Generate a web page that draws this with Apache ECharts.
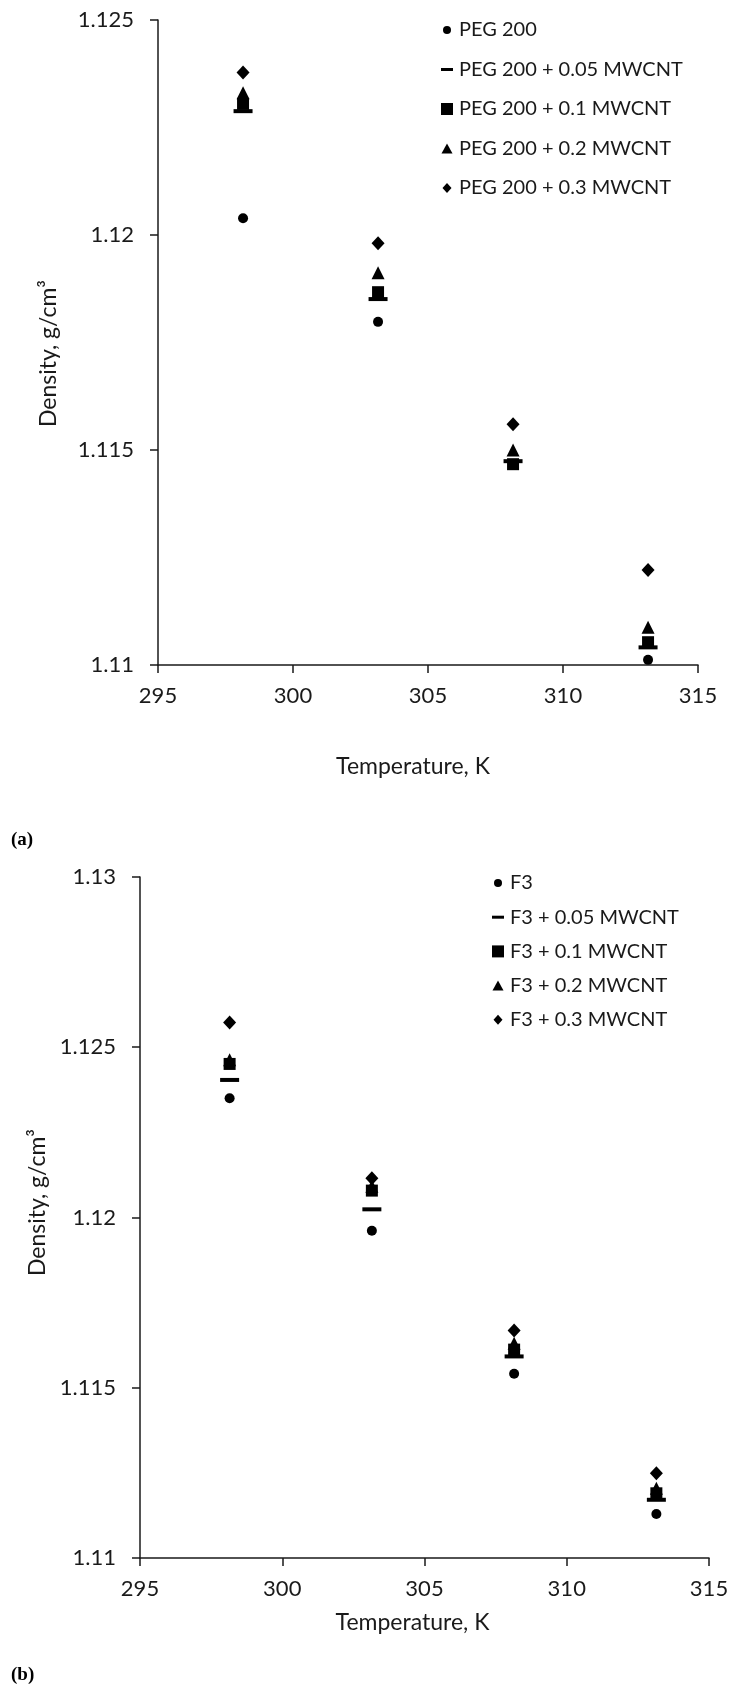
<!DOCTYPE html>
<html>
<head>
<meta charset="utf-8">
<title>Density vs temperature</title>
<script src="https://cdn.jsdelivr.net/npm/echarts@6/dist/echarts.min.js"></script>
<style>
  html, body { margin: 0; padding: 0; background: #fff; }
  #chart { width: 745px; height: 1695px; }
</style>
</head>
<body>
<div id="chart"></div>
<script>
// temperatures, K
var temps = [298.15, 303.15, 308.15, 313.15];

// (a) PEG 200 based fluids, g/cm3
var namesA = ['PEG 200', 'PEG 200 + 0.05 MWCNT', 'PEG 200 + 0.1 MWCNT', 'PEG 200 + 0.2 MWCNT', 'PEG 200 + 0.3 MWCNT'];
var peg     = [1.12039, 1.11798, 1.11465, 1.11012];
var peg005  = [1.12288, 1.11851, 1.11474, 1.11041];
var peg01   = [1.12305, 1.11867, 1.11467, 1.11053];
var peg02   = [1.12331, 1.11912, 1.11500, 1.11088];
var peg03   = [1.12378, 1.11981, 1.11560, 1.11221];

// (b) F3 based fluids, g/cm3
var namesB = ['F3', 'F3 + 0.05 MWCNT', 'F3 + 0.1 MWCNT', 'F3 + 0.2 MWCNT', 'F3 + 0.3 MWCNT'];
var f3     = [1.12350, 1.11961, 1.11541, 1.11129];
var f3005  = [1.12404, 1.12024, 1.11592, 1.11171];
var f301   = [1.12451, 1.12079, 1.11612, 1.11190];
var f302   = [1.12463, 1.12092, 1.11631, 1.11205];
var f303   = [1.12573, 1.12115, 1.11668, 1.11249];

// tick labels
var xTicks  = [295, 300, 305, 310, 315];
var yTicksA = [1.11, 1.115, 1.12, 1.125];
var yTicksB = [1.11, 1.115, 1.12, 1.125, 1.13];

var ink = '#1a1a1a';
var font = 'Lato, Liberation Sans, sans-serif';

// marker shapes: circle, dash, square, triangle, diamond
var symbols = ['circle', 'rect', 'rect', 'triangle', 'diamond'];
var sizes = [10, [19, 4], [12, 12], [13, 13], [13, 14]];
// legend icons in a 14x14 box (corner moves keep the box)
var icons = [
  'path://M0,0M14,14M3,7a4,4 0 1,0 8,0a4,4 0 1,0 -8,0z',
  'path://M0,0M14,14M1,5.5h12v3h-12z',
  'path://M0,0M14,14M1,1h12v12h-12z',
  'path://M0,0M14,14M7,2L12.5,12H1.5z',
  'path://M0,0M14,14M7,2L11.5,7L7,12L2.5,7z'
];

function pairs(ys) {
  return temps.map(function (t, i) { return [t, ys[i]]; });
}

function makeSeries(names, sets, idx) {
  return sets.map(function (ys, k) {
    return {
      name: names[k],
      type: 'scatter',
      xAxisIndex: idx,
      yAxisIndex: idx,
      symbol: symbols[k],
      symbolSize: sizes[k],
      itemStyle: { color: '#000', opacity: 1 },
      data: pairs(ys)
    };
  });
}

function xAxisOf(idx, gap, shift) {
  return {
    gridIndex: idx,
    type: 'value',
    min: xTicks[0],
    max: xTicks[xTicks.length - 1],
    interval: 5,
    name: 'Temperature, K',
    nameLocation: 'middle',
    nameGap: gap,
    nameTextStyle: { color: ink, fontSize: 23, fontFamily: font, padding: [0, shift, 0, 0] },
    axisLine: { lineStyle: { color: ink, width: 1.5 } },
    axisTick: { length: 8, lineStyle: { color: ink, width: 1.5 } },
    axisLabel: {
      color: ink, fontSize: 22, fontFamily: font, margin: 20,
      formatter: function (v) { return xTicks.indexOf(v) >= 0 ? String(v) : ''; }
    },
    splitLine: { show: false }
  };
}

function yAxisOf(idx, ticks, gap, pad) {
  return {
    gridIndex: idx,
    type: 'value',
    min: ticks[0],
    max: ticks[ticks.length - 1],
    interval: 0.005,
    name: 'Density, g/cm\u00b3',
    nameLocation: 'middle',
    nameGap: gap,
    nameTextStyle: { color: ink, fontSize: 23, fontFamily: font, padding: pad },
    axisLine: { show: true, lineStyle: { color: ink, width: 1.5 } },
    axisTick: { show: true, length: 8, lineStyle: { color: ink, width: 1.5 } },
    axisLabel: {
      color: ink, fontSize: 22, fontFamily: font, margin: 24,
      formatter: function (v) { return String(+v.toFixed(3)); }
    },
    splitLine: { show: false }
  };
}

function legendOf(names, left, top, gap) {
  return {
    orient: 'vertical',
    left: left,
    top: top,
    itemWidth: 14,
    itemHeight: 14,
    itemGap: gap,
    selectedMode: false,
    textStyle: { color: ink, fontSize: 20, fontFamily: font, lineHeight: 20 },
    data: names.map(function (n, k) { return { name: n, icon: icons[k] }; })
  };
}

var panelLabel = {
  rich: {
    p: { fontFamily: 'Liberation Serif, serif', fontSize: 19, color: '#000' },
    b: { fontFamily: 'Liberation Serif, serif', fontSize: 19, fontWeight: 'bold', color: '#000' }
  }
};

var option = {
  backgroundColor: '#fff',
  animation: false,
  title: [
    { text: '{p|(}{b|a}{p|)}', left: 6, top: 826, textStyle: panelLabel },
    { text: '{p|(}{b|b}{p|)}', left: 6, top: 1661, textStyle: panelLabel }
  ],
  legend: [
    legendOf(namesA, 435, 15, 19.5),
    legendOf(namesB, 486, 868, 14.2)
  ],
  grid: [
    { left: 158, top: 20, width: 540, height: 645 },
    { left: 140, top: 877, width: 569, height: 681 }
  ],
  xAxis: [xAxisOf(0, 90, 30), xAxisOf(1, 53, 24)],
  yAxis: [yAxisOf(0, yTicksA, 98, [0, 22, 0, 0]), yAxisOf(1, yTicksB, 88, [0, 0, 0, 30])],
  series: makeSeries(namesA, [peg, peg005, peg01, peg02, peg03], 0)
    .concat(makeSeries(namesB, [f3, f3005, f301, f302, f303], 1))
};

var chart = echarts.init(document.getElementById('chart'));
chart.setOption(option);
</script>
</body>
</html>
